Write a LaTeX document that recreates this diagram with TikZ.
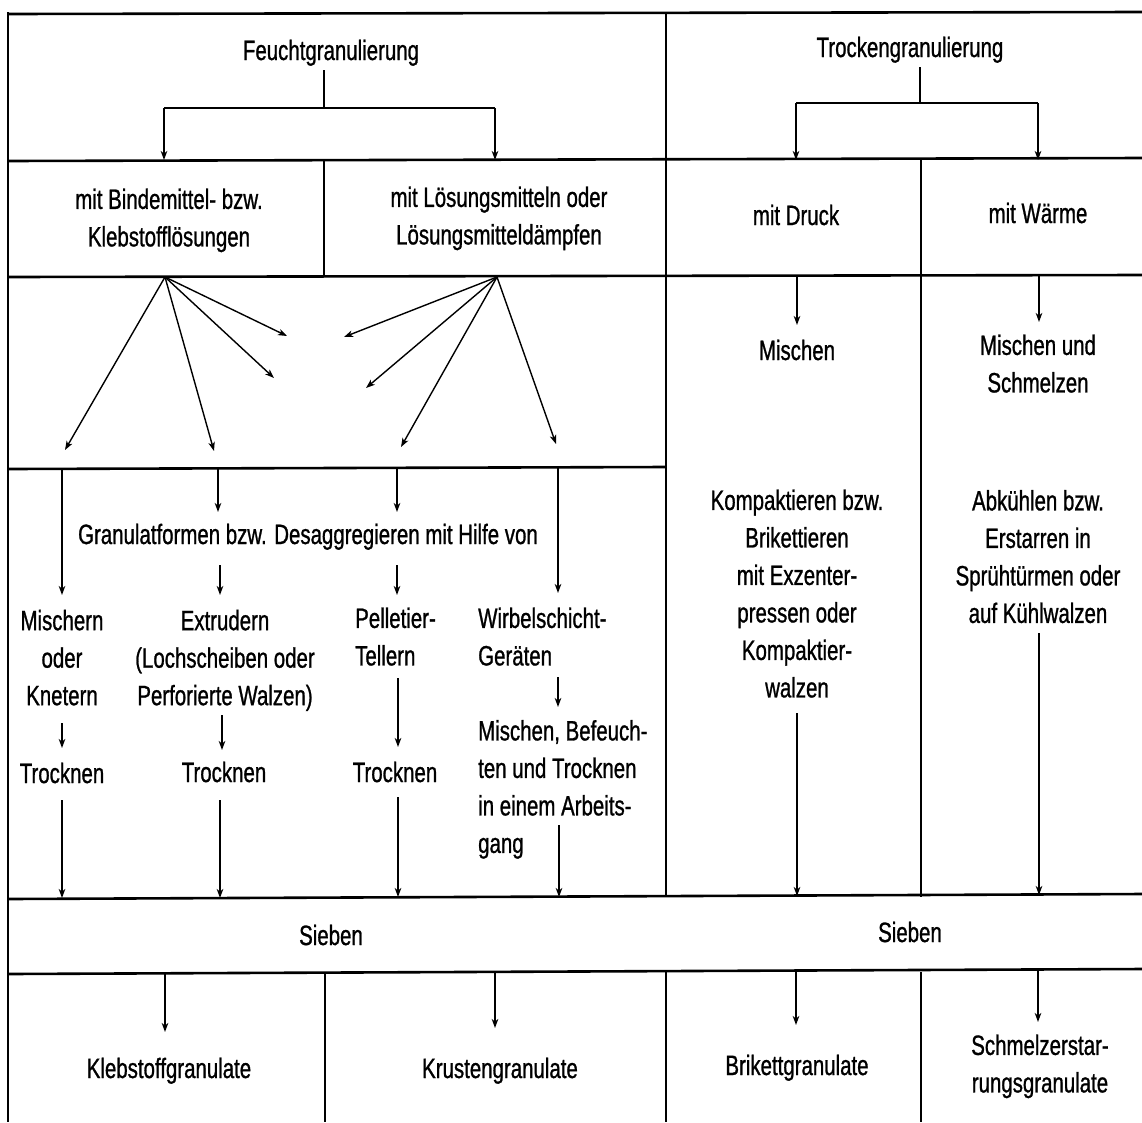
\documentclass[tikz,border=0pt]{standalone}
\usepackage{fontspec}
\setmainfont{Liberation Sans}[FakeStretch=0.73,FakeBold=0.9]
\usetikzlibrary{arrows.meta}
\newcommand\Sx{\rule[-7pt]{0pt}{34pt}}
\begin{document}
\begin{tikzpicture}[x=1pt,y=-1pt,
  txt/.style={inner sep=0pt, font=\fontsize{28pt}{37.5pt}\selectfont, align=center,
              execute at begin node=\Sx, execute at end node=\Sx},
  ltxt/.style={txt, align=left, anchor=west},
  hframe/.style={line width=2.6pt},
  vframe/.style={line width=1.6pt},
  conn/.style={line width=1.4pt},
  arr/.style={line width=1.4pt, -{Stealth[length=9pt,width=6.5pt,inset=2.5pt]}}]
\useasboundingbox (0,0) rectangle (1142,1122);
\fill[white] (0,0) rectangle (1142,1122);

% ---------- frame ----------
\coordinate (h0) at (0,13);
\coordinate (h1) at (0,160);
\coordinate (h2) at (0,276);
\coordinate (h3) at (0,468);
\coordinate (h4) at (0,897);
\coordinate (h5) at (0,972);
\draw[hframe] (8,14) -- (1142,12);
\draw[hframe] (8,161) -- (1142,158);
\draw[hframe] (8,277) -- (1142,275);
\draw[hframe] (8,469) -- (666,467);
\draw[hframe] (8,899) -- (1142,894);
\draw[hframe] (8,974) -- (1142,969);
\draw[vframe] (8,12) -- (8,1122);
\draw[vframe] (666,13) -- (666,897);
\draw[vframe] (666,972) -- (666,1122);
\draw[vframe] (324,160) -- (324,276);
\draw[vframe] (325,972) -- (325,1122);
\draw[vframe] (921,160) -- (921,897);
\draw[vframe] (921,972) -- (921,1122);

% ---------- texts ----------
\node[txt] (feucht) at (331,50) {Feuchtgranulierung};
\node[txt] (trocken) at (910,47) {Trockengranulierung};
\node[txt] (bind) at (169,221) {mit Bindemittel- bzw.\\Klebstofflösungen};
\node[txt] (loes) at (499,219) {mit Lösungsmitteln oder\\Lösungsmitteldämpfen};
\node[txt] (druck) at (796,215) {mit Druck};
\node[txt] (waerme) at (1038,213) {mit Wärme};
\node[txt] (misch) at (797,350) {Mischen};
\node[txt] (mischschm) at (1038,367) {Mischen und\\Schmelzen};
\node[txt] (kompakt) at (797,597) {Kompaktieren bzw.\\Brikettieren\\mit Exzenter-\\pressen oder\\Kompaktier-\\walzen};
\node[txt] (abk) at (1038,560) {Abkühlen bzw.\\Erstarren in\\Sprühtürmen oder\\auf Kühlwalzen};
\node[txt] (granul) at (308,534) {Granulatformen bzw. Desaggregieren\ mit Hilfe von};
\node[txt] (mischern) at (62,661) {Mischern\\oder\\Knetern};
\node[txt] (extrud) at (225,661) {Extrudern\\(Lochscheiben oder\\Perforierte Walzen)};
\node[ltxt] (pellet) at (355,640) {Pelletier-\\Tellern};
\node[ltxt] (wirbel) at (478,640) {Wirbelschicht-\\Geräten};
\node[txt] (trock1) at (62,773) {Trocknen};
\node[txt] (trock2) at (224,772) {Trocknen};
\node[txt] (trock3) at (395,772) {Trocknen};
\node[ltxt] (mbt) at (478,790) {Mischen, Befeuch-\\ten und Trocknen\\in einem Arbeits-\\gang};
\node[txt] (sieb1) at (331,935) {Sieben};
\node[txt] (sieb2) at (910,932) {Sieben};
\node[txt] (kleb) at (169,1068) {Klebstoffgranulate};
\node[txt] (krust) at (500,1068) {Krustengranulate};
\node[txt] (brik) at (797,1065) {Brikettgranulate};
\node[txt] (schmelz) at (1040,1067) {Schmelzerstar-\\rungsgranulate};

% ---------- top trees ----------
\coordinate (fl) at (164,108);
\coordinate (fr) at (495,108);
\draw[conn] (324,70) -- (324,108);
\draw[conn] (fl) -- (fr);
\draw[arr] (fl) -- (fl |- h1);
\draw[arr] (fr) -- (fr |- h1);
\coordinate (tl) at (796,103);
\coordinate (tr) at (1038,103);
\draw[conn] (920,67) -- (920,103);
\draw[conn] (tl) -- (tr);
\draw[arr] (tl) -- (tl |- h1);
\draw[arr] (tr) -- (tr |- h1);

% ---------- fans ----------
\coordinate (fanL) at (165,277);
\coordinate (fanR) at (497,277);
\draw[arr] (fanL) -- (65,450);
\draw[arr] (fanL) -- (214,451);
\draw[arr] (fanL) -- (274,378);
\draw[arr] (fanL) -- (287,336);
\draw[arr] (fanR) -- (344,337);
\draw[arr] (fanR) -- (366,388);
\draw[arr] (fanR) -- (401,447);
\draw[arr] (fanR) -- (556,444);

% ---------- Feucht lower section ----------
\draw[arr] (62,468) -- (62,595);
\draw[arr] (218,468) -- (218,512);
\draw[arr] (397,468) -- (397,512);
\draw[arr] (558,468) -- (558,593);
\draw[arr] (220,565) -- (220,595);
\draw[arr] (397,565) -- (397,595);
\draw[arr] (62,723) -- (62,748);
\draw[arr] (222,715) -- (222,750);
\draw[arr] (398,678) -- (398,747);
\draw[arr] (558,677) -- (558,707);
\draw[arr] (62,800) -- (62,898);
\draw[arr] (220,800) -- (220,898);
\draw[arr] (398,797) -- (398,897);
\draw[arr] (559,825) -- (559,897);

% ---------- Trocken column ----------
\draw[arr] (797,276) -- (797,325);
\draw[arr] (1039,276) -- (1039,322);
\draw[arr] (797,713) -- (797,896);
\draw[arr] (1039,633) -- (1039,895);

% ---------- bottom ----------
\draw[arr] (165,974) -- (165,1032);
\draw[arr] (495,973) -- (495,1028);
\draw[arr] (796,971) -- (796,1025);
\draw[arr] (1038,970) -- (1038,1022);
\end{tikzpicture}
\end{document}
